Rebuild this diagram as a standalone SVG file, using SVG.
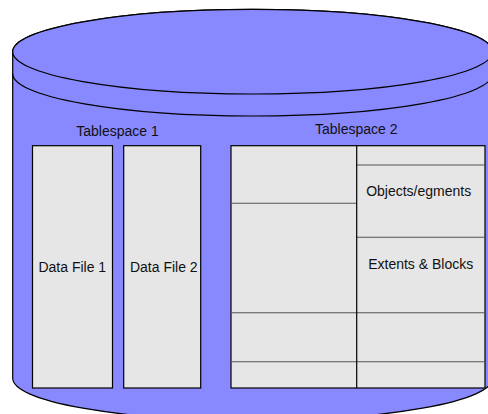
<svg xmlns="http://www.w3.org/2000/svg" width="488" height="414" viewBox="0 0 488 414">
<style>
.cyl{fill:#8888FF;stroke:#000;stroke-width:1.2}
.edge{fill:none;stroke:#000;stroke-width:1.2}
.box{fill:#E6E6E6;stroke:#000;stroke-width:1.2}
.div{stroke:#555;stroke-width:1.1;fill:none}
.vdiv{stroke:#000;stroke-width:1.2;fill:none}
text{font-family:"Liberation Sans",Arial,sans-serif;font-size:14px;fill:#111;text-anchor:middle}
</style>
<g id="disk">
<path class="cyl" d="M12.7,51.7 A240,42.3 0 0 1 492.7,51.7 L492.7,378.3 A240,42.3 0 0 1 12.7,378.3 Z"/>
<ellipse class="cyl" cx="252.7" cy="51.7" rx="240" ry="42.3"/>
<path class="edge" d="M12.7,73.7 A240,42.3 0 0 0 492.7,73.7"/>
</g>
<g id="tablespace1">
<text x="117.5" y="136.3">Tablespace 1</text>
</g>
<g id="datafile1">
<rect class="box" x="32.5" y="145.7" width="80" height="242.3"/>
<text x="72.3" y="271.7">Data File 1</text>
</g>
<g id="datafile2">
<rect class="box" x="123.7" y="145.7" width="77" height="242.3"/>
<text x="163.8" y="271.7">Data File 2</text>
</g>
<g id="tablespace2">
<text x="356.3" y="134.3">Tablespace 2</text>
<rect class="box" x="231" y="145.7" width="254" height="242.3"/>
<line class="div" x1="231" y1="203.3" x2="356.7" y2="203.3"/>
<line class="div" x1="356.7" y1="165" x2="485" y2="165"/>
<line class="div" x1="356.7" y1="237.3" x2="485" y2="237.3"/>
<line class="div" x1="231" y1="312.7" x2="485" y2="312.7"/>
<line class="div" x1="231" y1="361.7" x2="485" y2="361.7"/>
<line class="vdiv" x1="356.7" y1="145.7" x2="356.7" y2="388"/>
</g>
<g id="objects-segments">
<text x="418.7" y="195.7">Objects/egments</text>
</g>
<g id="extents-blocks">
<text x="420.7" y="269.3">Extents &amp; Blocks</text>
</g>
</svg>
